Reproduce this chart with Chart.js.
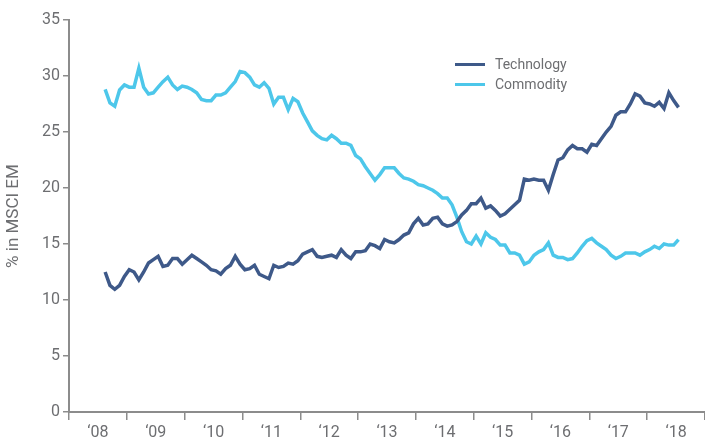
<!DOCTYPE html>
<html>
<head>
<meta charset="utf-8">
<script src="https://cdn.jsdelivr.net/npm/chart.js@4.4.1/dist/chart.umd.min.js"></script>
<style>
  body { margin: 0; background: #fff; }
  #contenedor { position: relative; width: 705px; height: 445px; }
  #leyenda {
    position: absolute; left: 455px; top: 54px;
    font-family: Roboto, "Liberation Sans", sans-serif; font-size: 14px; color: #6d6e71;
  }
  .fila { display: flex; align-items: center; height: 20px; }
  .muestra { width: 30px; height: 3px; margin-right: 10px; }
</style>
</head>
<body>
<div id="contenedor">
  <canvas id="grafico" width="705" height="445"></canvas>
  <div id="leyenda"></div>
</div>
<script>
// Etiquetas del eje x (un año por categoría)
const anios = ["‘08", "‘09", "‘10", "‘11", "‘12", "‘13", "‘14", "‘15", "‘16", "‘17", "‘18"];

// Serie mensual desde agosto 2008 hasta julio 2018 (% en MSCI EM)
const tecnologia = [
  12.5, 11.3, 10.95, 11.3, 12.1, 12.7, 12.5, 11.8, 12.5, 13.3, 13.6, 13.9, 13.0, 13.1, 13.7,
  13.7, 13.2, 13.6, 14.0, 13.7, 13.4, 13.1, 12.7, 12.6, 12.3, 12.8, 13.1, 13.9, 13.2, 12.7,
  12.8, 13.1, 12.3, 12.1, 11.9, 13.1, 12.9, 13.0, 13.3, 13.2, 13.5, 14.1, 14.3, 14.5, 13.9,
  13.8, 13.9, 14.0, 13.8, 14.5, 14.0, 13.7, 14.3, 14.3, 14.4, 15.0, 14.85, 14.6, 15.4, 15.2,
  15.1, 15.4, 15.8, 16.0, 16.8, 17.3, 16.7, 16.8, 17.3, 17.4, 16.8, 16.6, 16.7, 17.0, 17.6,
  18.0, 18.6, 18.6, 19.1, 18.2, 18.4, 18.0, 17.5, 17.7, 18.1, 18.5, 18.9, 20.8, 20.7, 20.8, 20.7,
  20.7, 19.8, 21.2, 22.5, 22.7, 23.4, 23.8, 23.5, 23.5, 23.2, 23.9, 23.8, 24.4, 25.0, 25.5,
  26.5, 26.8, 26.8, 27.5, 28.4, 28.2, 27.6, 27.5, 27.3, 27.65, 27.1, 28.5, 27.8, 27.2
];

const commodity = [
  28.8, 27.6, 27.3, 28.75, 29.2, 29.0, 29.0, 30.7, 29.0, 28.4, 28.5, 29.0, 29.5, 29.9, 29.2,
  28.8, 29.1, 29.0, 28.8, 28.5, 27.9, 27.8, 27.8, 28.3, 28.3, 28.5, 29.0, 29.5, 30.4, 30.3,
  29.9, 29.2, 29.0, 29.4, 28.9, 27.5, 28.1, 28.1, 27.0, 28.0, 27.7, 26.7, 25.9, 25.1, 24.7,
  24.4, 24.3, 24.7, 24.4, 24.0, 24.0, 23.8, 22.9, 22.6, 21.9, 21.3, 20.7, 21.2, 21.8, 21.8,
  21.8, 21.3, 20.9, 20.8, 20.6, 20.3, 20.2, 20.0, 19.8, 19.5, 19.1, 19.1, 18.5, 17.4, 16.1,
  15.2, 15.0, 15.7, 15.0, 16.0, 15.6, 15.4, 14.9, 14.9, 14.2, 14.2, 14.0, 13.2, 13.4, 14.0, 14.3,
  14.5, 15.1, 14.0, 13.8, 13.8, 13.6, 13.7, 14.2, 14.8, 15.3, 15.5, 15.1, 14.8, 14.5, 14.0,
  13.7, 13.9, 14.2, 14.2, 14.2, 14.0, 14.3, 14.5, 14.8, 14.6, 15.0, 14.9, 14.9, 15.4
];

const nombres = ["Technology", "Commodity"];
const colores = ["#3e5989", "#4dc7ea"];

const grisEje = "#8c8c8c";
const grisTexto = "#6d6e71";
const fuente = "Roboto, 'Liberation Sans', sans-serif";

// Cada mes se ubica en la mitad de su mes, empezando en agosto de 2008
function aPuntos(valores) {
  return valores.map((v, i) => ({ x: 2008 + (7 + i + 0.5) / 12, y: v }));
}

const ctx = document.getElementById("grafico").getContext("2d");
new Chart(ctx, {
  type: "line",
  data: {
    datasets: [
      {
        label: nombres[0],
        data: aPuntos(tecnologia),
        borderColor: colores[0],
        borderWidth: 3.5,
        pointRadius: 0,
        tension: 0,
        xAxisID: "xDatos",
      },
      {
        label: nombres[1],
        data: aPuntos(commodity),
        borderColor: colores[1],
        borderWidth: 3.5,
        pointRadius: 0,
        tension: 0,
        xAxisID: "xDatos",
      },
    ],
  },
  options: {
    responsive: false,
    animation: false,
    devicePixelRatio: 1,
    layout: { padding: { top: 20, right: 0, bottom: 0, left: 0 } },
    plugins: {
      legend: { display: false },
      tooltip: { enabled: false },
    },
    scales: {
      xDatos: { type: "linear", display: false, min: 2008, max: 2019 },
      x: {
        type: "category",
        labels: anios,
        offset: true,
        afterFit: (escala) => { escala.height = 33; },
        grid: {
          offset: true,
          drawOnChartArea: false,
          tickLength: 8,
          color: grisEje,
          lineWidth: 1.5,
        },
        border: { color: grisEje, width: 2 },
        ticks: {
          color: grisTexto,
          font: { family: fuente, size: 16 },
          padding: 3,
          maxRotation: 0,
          autoSkip: false,
        },
      },
      y: {
        min: 0,
        max: 35,
        afterFit: (escala) => { escala.width = 69; },
        grid: {
          drawOnChartArea: false,
          tickLength: 6,
          color: grisEje,
          lineWidth: 1.5,
        },
        border: { color: grisEje, width: 2 },
        ticks: {
          stepSize: 5,
          color: grisTexto,
          font: { family: fuente, size: 16 },
          padding: 3,
        },
        title: {
          display: true,
          text: "% in MSCI EM",
          color: grisTexto,
          font: { family: fuente, size: 17 },
          padding: { top: 4, bottom: 0 },
        },
      },
    },
  },
});

// Leyenda en HTML dentro del área del gráfico
const leyenda = document.getElementById("leyenda");
nombres.forEach((nombre, i) => {
  const fila = document.createElement("div");
  fila.className = "fila";
  fila.innerHTML = `<span class="muestra" style="background:${colores[i]}"></span><span>${nombre}</span>`;
  leyenda.appendChild(fila);
});
</script>
</body>
</html>
